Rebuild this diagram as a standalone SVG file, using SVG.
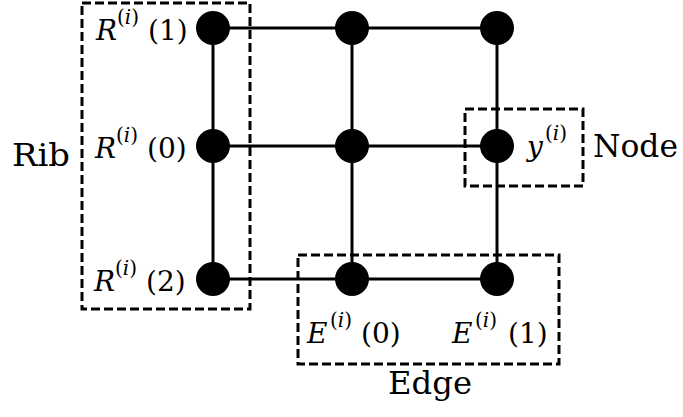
<svg xmlns="http://www.w3.org/2000/svg" width="683" height="417" viewBox="0 0 683 417">
<style>
.t{font-family:"DejaVu Serif",serif;fill:#000}
.m{font-size:28px}
.s{font-size:20px}
.it{font-style:italic}
.w{font-size:31px}
.box{fill:none;stroke:#000;stroke-width:3;stroke-dasharray:9 4}
.ln{stroke:#000;stroke-width:3;fill:none}
.dot{fill:#000}
</style>
<rect width="683" height="417" fill="#fff"/>
<g id="connectors">
<line class="ln" x1="213" y1="28" x2="497" y2="28"/>
<line class="ln" x1="213" y1="146" x2="497" y2="146"/>
<line class="ln" x1="213" y1="279" x2="497" y2="279"/>
<line class="ln" x1="213" y1="28" x2="213" y2="279"/>
<line class="ln" x1="352" y1="28" x2="352" y2="279"/>
<line class="ln" x1="497" y1="28" x2="497" y2="279"/>
</g>
<g id="rib-group">
<rect class="box" x="82" y="3" width="168" height="306"/>
<text class="t w" x="12" y="166" textLength="58" lengthAdjust="spacingAndGlyphs">Rib</text>
</g>
<g id="node-group">
<rect class="box" x="465" y="109" width="118" height="77"/>
<text class="t w" x="593" y="157" textLength="85" lengthAdjust="spacingAndGlyphs">Node</text>
</g>
<g id="edge-group">
<rect class="box" x="298" y="255" width="261" height="109"/>
<text class="t w" x="388" y="394" textLength="84" lengthAdjust="spacingAndGlyphs">Edge</text>
</g>
<g id="R1">
<circle class="dot" cx="213" cy="28" r="17"/>
<text class="t m"><tspan class="it" x="96" y="40">R</tspan><tspan class="s" x="117" y="24">(<tspan class="it">i</tspan>)</tspan><tspan x="148" y="40">(1)</tspan></text>
</g>
<g id="R0">
<circle class="dot" cx="213" cy="146" r="17"/>
<text class="t m"><tspan class="it" x="95" y="158">R</tspan><tspan class="s" x="116" y="142">(<tspan class="it">i</tspan>)</tspan><tspan x="147" y="158">(0)</tspan></text>
</g>
<g id="R2">
<circle class="dot" cx="213" cy="279" r="17"/>
<text class="t m"><tspan class="it" x="94" y="291">R</tspan><tspan class="s" x="115" y="275">(<tspan class="it">i</tspan>)</tspan><tspan x="146" y="291">(2)</tspan></text>
</g>
<g id="n-top-mid"><circle class="dot" cx="352" cy="28" r="17"/></g>
<g id="n-top-right"><circle class="dot" cx="497" cy="28" r="17"/></g>
<g id="n-mid-mid"><circle class="dot" cx="352" cy="146" r="17"/></g>
<g id="y">
<circle class="dot" cx="497" cy="146" r="17"/>
<text class="t m"><tspan class="it" x="527" y="156">y</tspan><tspan class="s" x="545" y="140">(<tspan class="it">i</tspan>)</tspan></text>
</g>
<g id="E0">
<circle class="dot" cx="352" cy="279" r="17"/>
<text class="t m"><tspan class="it" x="307" y="343">E</tspan><tspan class="s" x="330" y="327">(<tspan class="it">i</tspan>)</tspan><tspan x="361" y="343">(0)</tspan></text>
</g>
<g id="E1">
<circle class="dot" cx="497" cy="279" r="17"/>
<text class="t m"><tspan class="it" x="452" y="343">E</tspan><tspan class="s" x="475" y="327">(<tspan class="it">i</tspan>)</tspan><tspan x="508" y="343">(1)</tspan></text>
</g>
</svg>
